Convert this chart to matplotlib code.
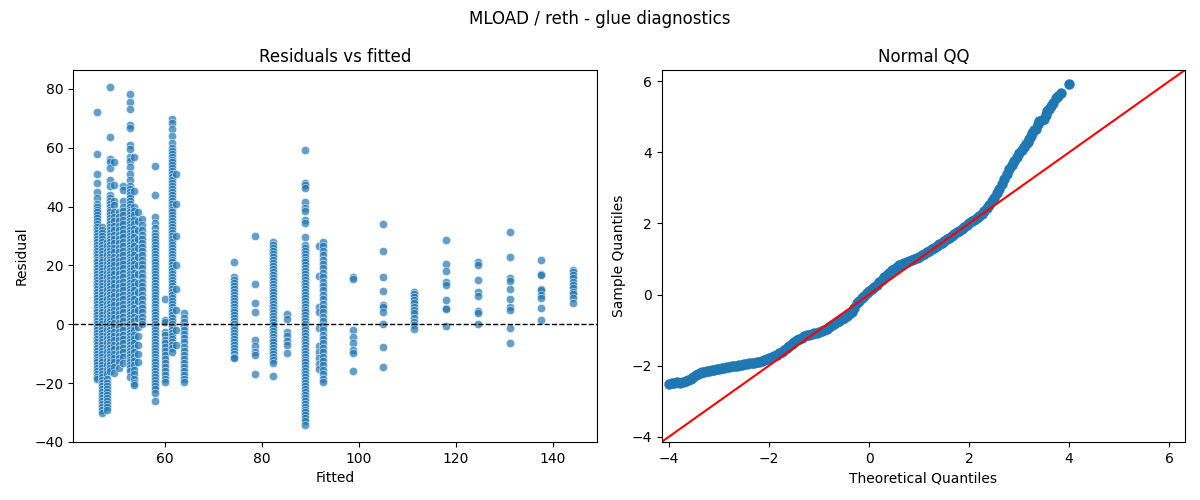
import numpy as np
import matplotlib
matplotlib.use("Agg")
import matplotlib.pyplot as plt
import seaborn as sns

# residuals, one list per fitted value column
fitted_levels = [46.0, 47.0, 48.0, 48.6, 49.5, 50.6, 51.3, 52.8, 53.6, 54.5, 55.3,
                 57.9, 60.0, 61.5, 62.3, 64.0, 74.3, 78.6, 82.3, 85.1, 88.8,
                 91.7, 92.5, 98.7, 104.9, 111.3, 117.9, 124.6, 131.1, 137.6, 144.1]

r46_0 = [72, 58, 51, 48, 45, 43, 41, 40, 39, 38, 37, 36, 35, 34, 33, 32, 31, 30, 29, 28,
         27, 26, 25, 24, 23, 22, 21, 20, 19, 18, 17, 16, 15, 14, 13, 12, 11, 10, 9, 8, 7,
         6, 5, 4, 3, 2, 1, 0, -1, -2, -3, -4, -5, -6, -7, -8, -9, -10, -11, -12, -13, -14,
         -15, -16, -17, -18, -18.5]
r47_0 = [33, 32, 31, 30, 29, 28, 27, 26, 25, 24, 23, 22, 21, 20, 19, 18, 17, 16, 15, 14,
         13, 12, 11, 10, 9, 8, 7, 6, 5, 4, 3, 2, 1, 0, -1, -2, -3, -4, -5, -6, -7, -8, -9,
         -10, -11, -12, -13, -14, -15, -16, -17, -18, -19, -20, -21, -22, -23, -24, -25,
         -26, -27, -28, -29, -30.3]
r48_0 = [28, 26.5, 25, 23.5, 22, 20.5, 19, 17.5, 16, 14.5, 13, 11.5, 10, 8.5, 7, 5.5, 4,
         2.5, 1, -0.5, -2, -3.5, -5, -6.5, -8, -9.5, -11, -12.5, -14, -15.5, -17, -18.5,
         -20, -21, -22, -23, -24, -25, -26, -27, -28, -29.2]
r48_6 = [80.7, 63.7, 56.2, 55.0, 53.2, 49.0, 47.1, 44, 43, 42, 41, 40, 39, 38, 37, 36, 35,
         34, 33, 32, 31, 30, 29, 28, 27, 26, 25, 24, 23, 22, 21, 20, 19, 18, 17, 16, 15, 14,
         13, 12, 11, 10, 9, 8, 7, 6, 5, 4, 3, 2, 1, 0, -1, -2, -3, -4, -5, -6, -7, -8, -9,
         -10, -11, -12, -13, -14, -15, -16]
r49_5 = [55.3, 47.5, 42, 40.5, 38, 36.5, 35, 33.5, 32, 30.5, 29, 27.5, 26, 24.5, 23, 21.5,
         20, 18.5, 17, 15.5, 14, 12.5, 11, 9.5, 8, 6.5, 5, 3.5, 2, 0.5, -1, -2.5, -4, -5.5,
         -7, -8.5, -10, -11.5, -13, -14.5, -16.7]
r50_6 = [38, 36.5, 35, 33.5, 32, 30.5, 29, 27.5, 26, 24.5, 23, 21.5, 20, 18.5, 17, 15.5,
         14, 12.5, 11, 9.5, 8, 6.5, 5, 3.5, 2, 0.5, -1, -2.5, -4, -5.5, -7, -8.5, -10,
         -11.5, -13, -15]
r51_3 = [47, 45.5, 42, 40, 38.5, 37, 35.5, 34, 32.5, 31, 29.5, 28, 26.5, 25, 23.5, 22,
         20.5, 19, 17.5, 16, 14.5, 13, 11.5, 10, 8.5, 7, 5.5, 4, 2.5, 1, -0.5, -2, -3.5, -5,
         -6.5, -8, -9.5, -11, -13.3]
r52_8 = [78.4, 75.7, 73.3, 67.6, 66.6, 60.8, 59.5, 57.0, 55.5, 53.5, 51.0, 49.0, 47, 46,
         45, 44, 43, 42, 41, 40, 39, 38, 37, 36, 35, 34, 33, 32, 31, 30, 29, 28, 27, 26, 25,
         24, 23, 22, 21, 20, 19, 18, 17, 16, 15, 14, 13, 12, 11, 10, 9, 8, 7, 6, 5, 4, 3, 2,
         1, 0, -1, -2, -3, -4, -5, -6, -7, -8, -9, -10, -11, -12, -13, -14, -15, -16, -17.8]
r53_6 = [56.9, 45.2, 40, 38.5, 37, 35.5, 34, 32.5, 31, 29.5, 28, 26.5, 25, 23.5, 22, 20.5,
         19, 17.5, 16, 14.5, 13, 11.5, 10, 8.5, 7, 5.5, 4, 2.5, 1, -0.5, -2, -3.5, -5, -6.5,
         -8, -9.5, -11, -12.5, -14, -15.5, -17, -18.5, -20, -20.7]
r54_5 = [38, 35, 32, 29, 26, 23, 20, 17, 14, 11, 8, 5, 2, -1, -4, -7, -10, -13]
r55_3 = [35.8, 33.8, 32.1, 30.5, 29, 27.5, 26.4, 25, 23.5, 22, 20.5, 19, 17.5, 16, 14.5,
         13, 11.5, 10, 8.5, 7, 5.5, 4, 2.5, 1, 0.0]
r57_9 = [53.9, 44.1, 36.3, 34.4, 32.7, 31, 30, 29, 28, 27, 26, 25, 24, 23, 22, 21, 20, 19,
         18, 17, 16, 15, 14, 13, 12, 11, 10, 9, 8, 7, 6, 5, 4, 3, 2, 1, 0, -1, -2, -3, -4,
         -5, -6, -7, -8, -9, -10, -11, -12, -13, -14, -15, -16, -17, -18, -19, -20, -21, -22,
         -23.5, -26.0]
r60_0 = [8.5, 1.5, 0.9, -2.5, -3.8, -5.2, -6.5, -7.8, -9.2, -10.5, -11.8, -13.2, -14.5,
         -15.8, -17.2, -18.5, -19.6]
r61_5 = [69.8, 68.5, 66.5, 64.0, 61.5, 60, 59, 58, 57, 56, 55, 54, 53, 52, 51, 50, 49, 48,
         47, 46, 45, 44, 43, 42, 41, 40, 39, 38, 37, 36, 35, 34, 33, 32, 31, 30, 29, 28, 27,
         26, 25, 24, 23, 22, 21, 20, 19, 18, 17, 16, 15, 14, 13, 12, 11, 10, 9, 8, 7, 6, 5,
         4, 3, 2, 1, 0, -1, -2, -3, -4, -5, -6, -7, -8, -9.3]
r62_3 = [51, 41, 30, 20, 12, 5, -2, -7]
r64_0 = [3.7, 2.2, 0.8, -0.6, -2, -3.4, -4.8, -6.2, -7.6, -9, -10.4, -11.8, -13.2, -14.6,
         -16, -17.4, -18.5, -19.5]
r74_3 = [21.3, 16.2, 15.0, 14.0, 13.0, 12.0, 11.0, 10.0, 9.0, 8.0, 7.0, 6.0, 5.0, 4.0, 3.0,
         2.0, 1.0, 0.0, -1.0, -2.0, -3.0, -4.0, -5.0, -6.0, -7.0, -8.0, -9.0, -10.0, -11.0,
         -11.6]
r78_6 = [30.1, 13.7, 7.3, 4.1, -5.3, -7.4, -9.3, -10.5, -17.0]
r82_3 = [27.8, 26.8, 25.8, 24.8, 23.8, 22.8, 21.8, 20.8, 19.8, 18.8, 17.8, 16.8, 15.8, 14.8,
         13.8, 12.8, 11.8, 10.8, 9.8, 8.8, 7.8, 6.8, 5.8, 4.8, 3.8, 2.8, 1.8, 0.8, -0.2,
         -1.2, -2.2, -3.2, -4.2, -5.2, -6.2, -7.2, -8.2, -9.2, -10.2, -11.2, -12.2, -13.3,
         -17.7]
r85_1 = [3.4, 1.8, -2.5, -4.0, -5.6, -7.0, -9.7]
r88_8 = [59.4, 48.0, 47.2, 46.3, 41.4, 39.6, 38.5, 35.5, 34.5, 29.8, 27, 26, 25, 24, 23,
         22, 21, 20, 19, 18, 17, 16, 15, 14, 13, 12, 11, 10, 9, 8, 7, 6, 5, 4, 3, 2, 1, 0,
         -1, -2, -3, -4, -5, -6, -7, -8, -9, -10, -11, -12, -13, -14, -15, -16, -17, -18,
         -19, -20, -21, -22, -23, -24, -25, -26, -27, -28, -29, -30, -31, -32, -33, -34.3]
r91_7 = [26.7, 16.4, 6.0, 4.3, -1.4, -7.4, -9.5, -11.5, -13.5, -15.3]
r92_5 = [27.9, 26.5, 25, 23.5, 22, 20.5, 19, 17.5, 16, 14.5, 13, 11.5, 10, 8.5, 7, 5.5, 4,
         2.5, 1, -0.5, -2, -3.5, -5, -6.5, -8, -9.5, -11, -12.5, -14, -15.5, -17, -18.5,
         -19.8]
r98_7 = [16.2, 15.3, -1.9, -4.2, -6.3, -8.8, -9.7, -15.9]
r104_9 = [34.1, 25.0, 16.0, 11.2, 6.6, 5.7, 4.1, 0.0, -7.8, -14.7]
r111_3 = [11.1, 10.3, 9.4, 8.3, 7.1, 6.0, 4.8, 3.7, 2.0, 0.9, -0.3, -1.6]
r117_9 = [28.6, 20.4, 18.1, 14.5, 13.4, 8.2, 5.5, 5.2, -0.6]
r124_6 = [21.3, 20.0, 15.0, 10.8, 9.5, 4.5, 3.7, 0.0]
r131_1 = [31.3, 22.8, 15.7, 14.8, 11.9, 8.5, 6.0, 4.8, -1.4, -6.5]
r137_6 = [21.8, 17.1, 16.7, 11.9, 11.7, 10.0, 8.9, 5.5, 1.5]
r144_1 = [18.5, 17.6, 16.7, 15.8, 14.5, 13.4, 12.3, 11.1, 10.2, 8.9, 7.2]

residual_columns = [r46_0, r47_0, r48_0, r48_6, r49_5, r50_6, r51_3, r52_8, r53_6, r54_5,
                    r55_3, r57_9, r60_0, r61_5, r62_3, r64_0, r74_3, r78_6, r82_3, r85_1,
                    r88_8, r91_7, r92_5, r98_7, r104_9, r111_3, r117_9, r124_6, r131_1,
                    r137_6, r144_1]

# normal QQ curve
qq_theoretical = [-4.00, -3.95, -3.90, -3.84, -3.78, -3.73, -3.67, -3.62, -3.57, -3.52,
                  -3.47, -3.43, -3.39, -3.35, -3.30, -3.25, -3.20, -3.15, -3.10, -3.05,
                  -3.00, -2.95, -2.90, -2.85, -2.80, -2.75, -2.70, -2.65, -2.60, -2.55,
                  -2.50, -2.45, -2.40, -2.35, -2.30, -2.25, -2.20, -2.15, -2.10, -2.05,
                  -2.00, -1.95, -1.90, -1.85, -1.80, -1.75, -1.70, -1.65, -1.60, -1.55,
                  -1.50, -1.45, -1.40, -1.35, -1.30, -1.25, -1.20, -1.15, -1.10, -1.05,
                  -1.00, -0.95, -0.90, -0.85, -0.80, -0.75, -0.70, -0.65, -0.60, -0.55,
                  -0.50, -0.45, -0.40, -0.35, -0.30, -0.25, -0.20, -0.15, -0.10, -0.05,
                  0.00, 0.05, 0.10, 0.15, 0.20, 0.25, 0.30, 0.35, 0.40, 0.45,
                  0.50, 0.55, 0.60, 0.65, 0.70, 0.75, 0.80, 0.85, 0.90, 0.95,
                  1.00, 1.05, 1.10, 1.15, 1.20, 1.25, 1.30, 1.35, 1.40, 1.45,
                  1.50, 1.55, 1.60, 1.65, 1.70, 1.75, 1.80, 1.85, 1.90, 1.95,
                  2.00, 2.05, 2.10, 2.15, 2.20, 2.25, 2.30, 2.35, 2.40, 2.45,
                  2.50, 2.55, 2.60, 2.65, 2.70, 2.75, 2.80, 2.85, 2.90, 2.95,
                  3.00, 3.05, 3.09, 3.13, 3.17, 3.20, 3.23, 3.26, 3.30, 3.33,
                  3.37, 3.40, 3.45, 3.50, 3.53, 3.56, 3.60, 3.63, 3.68, 3.73,
                  3.78, 3.83, 4.00]
qq_sample = [-2.51, -2.50, -2.49, -2.47, -2.48, -2.47, -2.44, -2.40, -2.37, -2.33,
             -2.27, -2.23, -2.20, -2.19, -2.17, -2.16, -2.15, -2.13, -2.12, -2.10,
             -2.09, -2.07, -2.06, -2.05, -2.03, -2.02, -2.01, -2.00, -1.98, -1.97,
             -1.96, -1.95, -1.94, -1.93, -1.92, -1.91, -1.90, -1.88, -1.85, -1.82,
             -1.79, -1.76, -1.73, -1.69, -1.65, -1.61, -1.56, -1.51, -1.46, -1.40,
             -1.34, -1.29, -1.25, -1.21, -1.18, -1.15, -1.13, -1.11, -1.09, -1.07,
             -1.05, -1.02, -0.99, -0.96, -0.92, -0.87, -0.83, -0.78, -0.74, -0.69,
             -0.65, -0.60, -0.55, -0.50, -0.38, -0.24, -0.17, -0.10, -0.04, 0.03,
             0.10, 0.16, 0.22, 0.28, 0.35, 0.42, 0.49, 0.56, 0.62, 0.68,
             0.73, 0.78, 0.82, 0.86, 0.89, 0.91, 0.94, 0.96, 0.99, 1.03,
             1.06, 1.10, 1.14, 1.19, 1.23, 1.28, 1.32, 1.37, 1.41, 1.46,
             1.51, 1.56, 1.60, 1.65, 1.70, 1.75, 1.80, 1.85, 1.90, 1.96,
             2.01, 2.06, 2.11, 2.16, 2.22, 2.28, 2.35, 2.44, 2.52, 2.62,
             2.73, 2.85, 2.98, 3.12, 3.26, 3.40, 3.52, 3.65, 3.77, 3.88,
             3.98, 4.08, 4.15, 4.23, 4.30, 4.38, 4.46, 4.55, 4.62, 4.67,
             4.80, 4.88, 4.90, 4.95, 5.05, 5.16, 5.23, 5.30, 5.40, 5.54,
             5.60, 5.68, 5.92]
qq_limits = (-4.15, 6.32)

fitted = []
resid = []
for level, col in zip(fitted_levels, residual_columns):
    fitted += [level] * len(col)
    resid += col
fitted = np.array(fitted)
resid = np.array(resid)

fig, (ax1, ax2) = plt.subplots(1, 2, figsize=(12, 5))
fig.subplots_adjust(left=0.061, right=0.9875, bottom=0.116, top=0.86, wspace=0.124)

sns.scatterplot(x=fitted, y=resid, alpha=0.7, ax=ax1)
ax1.axhline(0, color='black', linestyle='--', linewidth=1)
ax1.set_title('Residuals vs fitted')
ax1.set_xlabel('Fitted')
ax1.set_ylabel('Residual')

ax2.plot(qq_theoretical, qq_sample, marker='o', linestyle='none', markersize=6.5,
         markerfacecolor='C0', markeredgecolor='C0')
ax2.plot(qq_limits, qq_limits, 'r-')
ax2.set_xlim(qq_limits)
ax2.set_ylim(qq_limits)
ax2.set_title('Normal QQ')
ax2.set_xlabel('Theoretical Quantiles')
ax2.set_ylabel('Sample Quantiles')

fig.suptitle('MLOAD / reth - glue diagnostics')
fig.savefig('out.png', dpi=100)
